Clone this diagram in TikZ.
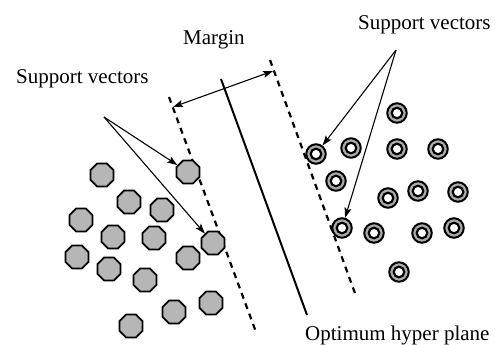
\documentclass[tikz,border=0pt]{standalone}
\usepackage{fontspec}
\setmainfont{Liberation Serif}
\usetikzlibrary{shapes.geometric,arrows.meta}
\definecolor{octgray}{RGB}{182,182,182}
\definecolor{ringgray}{RGB}{172,172,172}
\begin{document}
\begin{tikzpicture}[x=1pt,y=-1pt,
  lbl/.style={anchor=base west,inner sep=0pt,font=\fontsize{21}{25}\selectfont},
  oct/.style={regular polygon,regular polygon sides=8,minimum size=25pt,inner sep=0pt,
    draw,line width=1.8pt,fill=octgray},
  ring/.style={circle,minimum size=19.5pt,inner sep=0pt,draw,line width=2pt,fill=ringgray,
    path picture={\draw[line width=2.2pt,fill=white] (path picture bounding box.center) circle (5.3pt);}},
  bound/.style={line width=2.2pt,dash pattern=on 6pt off 5pt},
  hyper/.style={line width=2pt},
  ptr/.style={line width=1.1pt,-{Stealth[length=10pt,width=7pt,inset=2pt]}},
  span/.style={line width=1.1pt,{Stealth[length=10pt,width=7pt,inset=2pt]}-{Stealth[length=10pt,width=7pt,inset=2pt]}}
]
\useasboundingbox (0,0) rectangle (495,345);

% separating hyperplane and the two margin boundaries
\coordinate (lt) at (169,97);  \coordinate (lb) at (256,332);
\coordinate (ht) at (221,79);  \coordinate (hb) at (307,315);
\coordinate (rt) at (270,60);  \coordinate (rb) at (356,296);
\draw[bound] (lt) -- (lb);
\draw[hyper] (ht) -- (hb);
\draw[bound] (rt) -- (rb);

% margin width
\coordinate (ml) at (173,107);
\coordinate (mr) at (273,71);
\draw[span] (ml) -- (mr);

% class A points (octagons)
\foreach \n/\x/\y in {a1/102/175, a2/188/172, a3/129/202, a4/162/210, a5/81/220,
    a6/113/237, a7/154/238, a8/213/243, a9/77/257, a10/109/269, a11/188/258,
    a12/145/280, a13/211/303, a14/174/312, a15/131/326}
  \node[oct] (\n) at (\x,\y) {};

% class B points (rings)
\foreach \n/\x/\y in {b1/397/113, b2/316/154, b3/351/148, b4/397/149, b5/438/149,
    b6/336/181, b7/388/198, b8/418/191, b9/458/192, b10/342/228, b11/374/233,
    b12/422/233, b13/454/228, b14/399/272}
  \node[ring] (\n) at (\x,\y) {};

% labels
\node[lbl] (svl) at (16,84) {Support vectors};
\node[lbl] (svr) at (358,30) {Support vectors};
\node[lbl] (mg) at (183,45) {Margin};
\node[lbl] (oh) at (305,340) {Optimum hyper plane};

% pointers to the support vectors
\coordinate (pl) at (104,117);
\coordinate (pr) at (396,50);
\draw[ptr] (pl) -- (a2);
\draw[ptr] (pl) -- (a8);
\draw[ptr] (pr) -- (b2);
\draw[ptr] (pr) -- (b10);
\end{tikzpicture}
\end{document}
